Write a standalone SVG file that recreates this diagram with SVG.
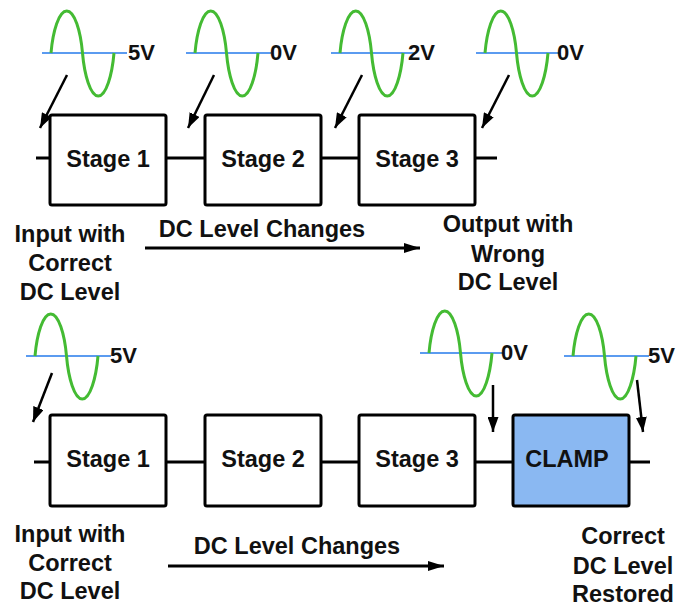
<svg xmlns="http://www.w3.org/2000/svg" xmlns:xlink="http://www.w3.org/1999/xlink" width="684" height="607" viewBox="0 0 684 607">
<style>
  .box { fill: #ffffff; stroke: #000000; stroke-width: 3; }
  .clamp { fill: #8ab8f2; stroke: #000000; stroke-width: 3; }
  .t { font-family: "Liberation Sans", Arial, sans-serif; font-weight: bold; font-size: 23.5px; fill: #111111; text-anchor: middle; }
  .v { font-family: "Liberation Sans", Arial, sans-serif; font-weight: bold; font-size: 22px; fill: #111111; }
  .lead { stroke: #000000; stroke-width: 3; fill: none; }
  .ptr { stroke: #000000; stroke-width: 2.5; fill: none; marker-end: url(#head); }
  .flow { stroke: #000000; stroke-width: 3; fill: none; marker-end: url(#bighead); }
  .base { stroke: #5b9bf0; stroke-width: 2; }
  .sine { stroke: #44bb33; stroke-width: 3; fill: none; }
</style>
<defs>
  <marker id="head" markerUnits="userSpaceOnUse" markerWidth="16" markerHeight="11" refX="15" refY="5.5" orient="auto">
    <path d="M0,0 L15,5.5 L0,11 z" fill="#000"/>
  </marker>
  <marker id="bighead" markerUnits="userSpaceOnUse" markerWidth="18" markerHeight="12" refX="16" refY="6" orient="auto">
    <path d="M0,1 L16,6 L0,11 z" fill="#000"/>
  </marker>
  <g id="wave">
    <line class="base" x1="-9" y1="0" x2="76" y2="0"/>
    <path class="sine" d="M0,0 C1.9,-22 7.9,-42 15.75,-42 C23.6,-42 29.6,-22 31.5,0 C33.4,22 39.4,43 47.25,43 C55.1,43 61.1,22 63,0"/>
  </g>
</defs>

<g id="connectors">
  <!-- top row leads -->
  <line class="lead" x1="36" y1="158" x2="50" y2="158"/>
  <line class="lead" x1="166" y1="158" x2="205" y2="158"/>
  <line class="lead" x1="321" y1="158" x2="359" y2="158"/>
  <line class="lead" x1="475" y1="158" x2="497" y2="158"/>
  <!-- bottom row leads -->
  <line class="lead" x1="34" y1="462" x2="50" y2="462"/>
  <line class="lead" x1="166" y1="462" x2="205" y2="462"/>
  <line class="lead" x1="321" y1="462" x2="359" y2="462"/>
  <line class="lead" x1="475" y1="462" x2="513" y2="462"/>
  <line class="lead" x1="629" y1="462" x2="650" y2="462"/>
  <!-- pointer arrows -->
  <line class="ptr" x1="67" y1="75" x2="40" y2="128"/>
  <line class="ptr" x1="214" y1="75" x2="188" y2="128"/>
  <line class="ptr" x1="362" y1="75" x2="335" y2="128"/>
  <line class="ptr" x1="509" y1="75" x2="482" y2="128"/>
  <line class="ptr" x1="52" y1="373" x2="33" y2="422"/>
  <line class="ptr" x1="493" y1="385" x2="493" y2="432"/>
  <line class="ptr" x1="637" y1="380" x2="643" y2="432"/>
  <!-- flow arrows -->
  <line class="flow" x1="145" y1="248" x2="420" y2="248"/>
  <line class="flow" x1="168" y1="566" x2="444" y2="566"/>
</g>

<g id="wave1"><use xlink:href="#wave" transform="translate(51,53)"/><text class="v" x="128" y="60">5V</text></g>
<g id="wave2"><use xlink:href="#wave" transform="translate(195,53)"/><text class="v" x="270" y="60">0V</text></g>
<g id="wave3"><use xlink:href="#wave" transform="translate(340,53)"/><text class="v" x="408" y="60">2V</text></g>
<g id="wave4"><use xlink:href="#wave" transform="translate(485,53)"/><text class="v" x="557" y="60">0V</text></g>
<g id="wave5"><use xlink:href="#wave" transform="translate(35,356)"/><text class="v" x="110" y="363">5V</text></g>
<g id="wave6"><use xlink:href="#wave" transform="translate(429,353)"/><text class="v" x="501" y="360">0V</text></g>
<g id="wave7"><use xlink:href="#wave" transform="translate(573,356)"/><text class="v" x="648" y="363">5V</text></g>

<g id="top-stage1"><rect class="box" x="50" y="115" width="116" height="90" rx="2"/><text class="t" x="108" y="167">Stage 1</text></g>
<g id="top-stage2"><rect class="box" x="205" y="115" width="116" height="90" rx="2"/><text class="t" x="263" y="167">Stage 2</text></g>
<g id="top-stage3"><rect class="box" x="359" y="115" width="116" height="90" rx="2"/><text class="t" x="417" y="167">Stage 3</text></g>

<g id="bot-stage1"><rect class="box" x="50" y="415" width="116" height="91" rx="2"/><text class="t" x="108" y="467">Stage 1</text></g>
<g id="bot-stage2"><rect class="box" x="205" y="415" width="116" height="91" rx="2"/><text class="t" x="263" y="467">Stage 2</text></g>
<g id="bot-stage3"><rect class="box" x="359" y="415" width="116" height="91" rx="2"/><text class="t" x="417" y="467">Stage 3</text></g>
<g id="clamp"><rect class="clamp" x="513" y="415" width="116" height="91" rx="2"/><text class="t" x="567" y="467">CLAMP</text></g>

<g id="top-input-label">
  <text class="t" x="70" y="242">Input with</text>
  <text class="t" x="70" y="271">Correct</text>
  <text class="t" x="70" y="300">DC Level</text>
</g>
<g id="top-change-label"><text class="t" x="262" y="237">DC Level Changes</text></g>
<g id="top-output-label">
  <text class="t" x="508" y="232">Output with</text>
  <text class="t" x="508" y="262">Wrong</text>
  <text class="t" x="508" y="290">DC Level</text>
</g>

<g id="bot-input-label">
  <text class="t" x="70" y="542">Input with</text>
  <text class="t" x="70" y="571">Correct</text>
  <text class="t" x="70" y="599">DC Level</text>
</g>
<g id="bot-change-label"><text class="t" x="297" y="554">DC Level Changes</text></g>
<g id="bot-output-label">
  <text class="t" x="623" y="544">Correct</text>
  <text class="t" x="623" y="574">DC Level</text>
  <text class="t" x="623" y="602">Restored</text>
</g>
</svg>
